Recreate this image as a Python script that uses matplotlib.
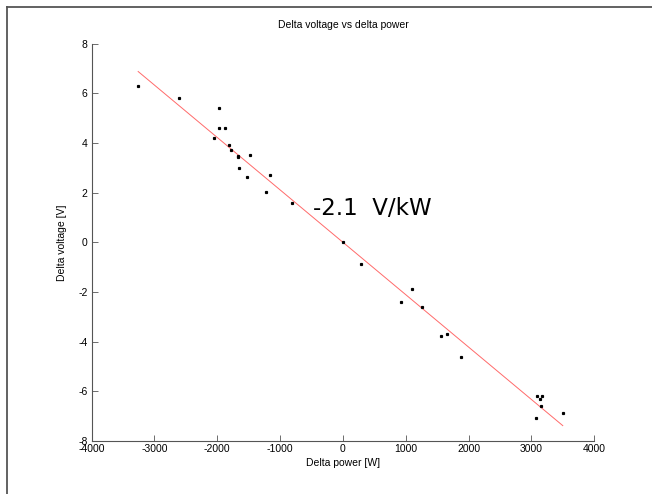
import numpy as np
import matplotlib
matplotlib.use("Agg")
import matplotlib.pyplot as plt
from matplotlib.lines import Line2D

# measured points (delta power in W, delta voltage in V)
power = [-3260, -2607, -1979, -1970, -1879, -2054, -1810, -1789, -1667, -1677,
         -1476, -1651, -1534, -1157, -1221, -812, 0, 281, 1099, 918,
         1258, 1651, 1561, 1874, 3094, 3174, 3137, 3153, 3068, 3498]
voltage = [6.31, 5.80, 5.40, 4.60, 4.60, 4.19, 3.91, 3.72, 3.48, 3.42,
           3.50, 2.99, 2.62, 2.71, 2.02, 1.60, 0.0, -0.88, -1.89, -2.39,
           -2.60, -3.70, -3.79, -4.60, -6.18, -6.18, -6.29, -6.58, -7.09, -6.88]

# fitted slope in V/kW
slope = -2.11
xticks = [-4000, -3000, -2000, -1000, 0, 1000, 2000, 3000, 4000]
yticks = [-8, -6, -4, -2, 0, 2, 4, 6, 8]

lab_font = ["Liberation Sans", "DejaVu Sans"]

fig = plt.figure(figsize=(6.52, 4.94), dpi=100)
ax = fig.add_axes([0.1406, 0.1073, 0.7709, 0.8043])

p = np.array(power)
fx = np.array([p.min(), p.max()])
ax.plot(fx, slope * fx / 1000.0, color="#ff6a6a", lw=0.7)
ax.plot(power, voltage, ls="none", marker="s", ms=1.3, color="black")

ax.text(-480, 1.1, "-2.1  V/kW", fontsize=16.5, family="DejaVu Sans")

ax.set_xlim(-4000, 4000)
ax.set_ylim(-8, 8)
ax.set_xticks(xticks)
ax.set_yticks(yticks)
ax.set_xticklabels([str(t) for t in xticks], family=lab_font, fontsize=7.5)
ax.set_yticklabels([str(t) for t in yticks], family=lab_font, fontsize=7.5)
ax.tick_params(direction="in", length=4, width=0.6, color="#555555", pad=3)
ax.tick_params(axis="x", pad=2)
for s in ["top", "right"]:
    ax.spines[s].set_visible(False)
for s in ["left", "bottom"]:
    ax.spines[s].set_linewidth(0.8)
    ax.spines[s].set_color("#555555")

ax.set_title("Delta voltage vs delta power", family=lab_font, fontsize=7.5, pad=11)
ax.set_xlabel("Delta power [W]", family=lab_font, fontsize=7.5, labelpad=3)
ax.set_ylabel("Delta voltage [V]", family=lab_font, fontsize=7.5, labelpad=8)

# screenshot frame (top and left edges)
fig.add_artist(Line2D([7 / 652, 1], [1 - 7 / 494, 1 - 7 / 494], transform=fig.transFigure, color="#555555", lw=1.3))
fig.add_artist(Line2D([7 / 652, 7 / 652], [0, 1 - 7 / 494], transform=fig.transFigure, color="#555555", lw=1.3))

fig.savefig("out.png", dpi=100)
